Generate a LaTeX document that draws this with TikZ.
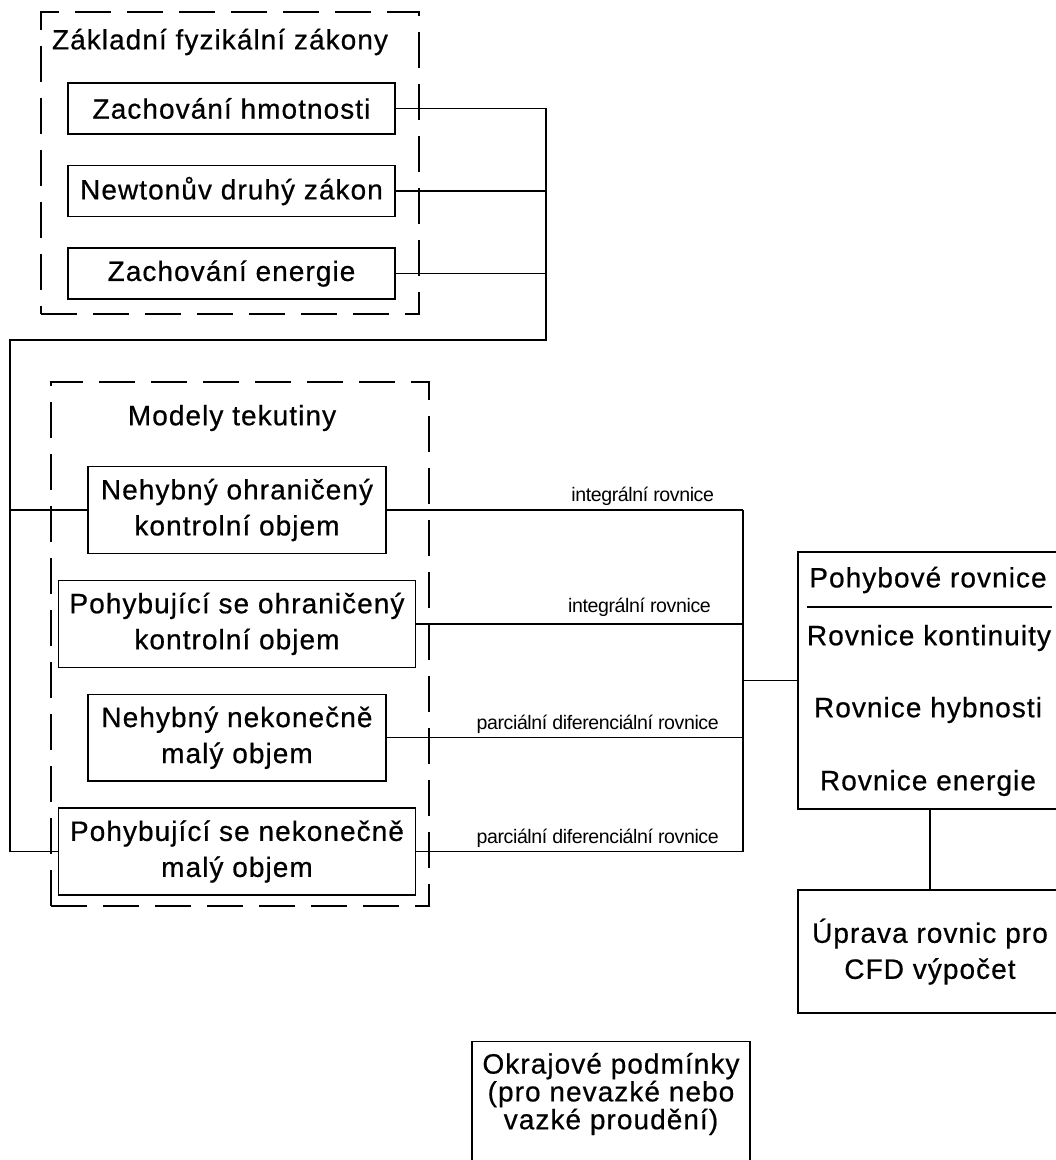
\documentclass[tikz,border=0pt]{standalone}
\usepackage{fontspec}
\setmainfont{Liberation Sans}[LetterSpace=3.8, FakeBold=0.6]
\newfontfamily\labelfont{Liberation Sans}[LetterSpace=-2]
\usetikzlibrary{positioning}

\begin{document}
\begin{tikzpicture}[x=0.025cm, y=-0.025cm, node distance=2.845cm,
    font=\fontsize{19.9}{25.6}\selectfont]
    \tikzstyle{groupbox} = [rectangle, draw=black, line width=1pt,
      dash pattern=on 0.9cm off 0.4cm, minimum width=9.45cm]
    \tikzstyle{lawbox} = [rectangle, draw=black, line width=1pt,
      minimum width=8.175cm, minimum height=1.275cm, node distance=2.0625cm]
    \tikzstyle{fixedbox} = [rectangle, draw=black, line width=1pt, align=center,
      minimum width=7.45cm, minimum height=2.17cm]
    \tikzstyle{movingbox} = [fixedbox, minimum width=8.925cm]
    \tikzstyle{resultbox} = [rectangle, draw=black, line width=1pt, align=center,
      minimum width=6.6cm]
    \tikzstyle{wire} = [line width=1pt]
    \tikzstyle{eqlabel} = [anchor=south east, inner sep=2.5pt,
      font=\labelfont\fontsize{13.9}{15}\selectfont]

    \useasboundingbox (0,0) rectangle (1055,1160);

    % dashed groups
    \node (lawsgroup) [groupbox, minimum height=7.55cm] at (230,163) {};
    \node (modelsgroup) [groupbox, minimum height=13.1cm] at (240,644) {};
    \node (lawstitle) at (220,42) {Základní fyzikální zákony};
    \node (modelstitle) at (232,418) {Modely tekutiny};

    \node (mass) [lawbox] at (231.5,108.5) {Zachování hmotnosti};
    \node (newton) [lawbox, below of=mass] {Newtonův druhý zákon};
    \node (energy) [lawbox, below of=newton] {Zachování energie};

    \node (fixedcv) [fixedbox] at (237,510) {Nehybný ohraničený\\kontrolní objem};
    \node (movingcv) [movingbox, below of=fixedcv] {Pohybující se ohraničený\\kontrolní objem};
    \node (fixedinf) [fixedbox, below of=movingcv] {Nehybný nekonečně\\malý objem};
    \node (movinginf) [movingbox, below of=fixedinf] {Pohybující se nekonečně\\malý objem};

    % equations
    \node (eqbox) [resultbox, minimum height=6.425cm] at (930,680.5) {};
    \node (eqtitle) at (928,580) {Pohybové rovnice};
    \draw [wire] (807,607) -- (1052,607);
    \node (continuity) at (929,638) {Rovnice kontinuity};
    \node (momentum) at (928,710) {Rovnice hybnosti};
    \node (energyeq) at (928,783) {Rovnice energie};

    \node (cfd) [resultbox, minimum height=3.075cm, below of=eqbox, node distance=6.775cm] {Úprava rovnic pro\\CFD výpočet};
    \node (bc) [resultbox, anchor=north, minimum width=6.95cm, inner ysep=8pt, text depth=2.75cm,
      font=\fontsize{19.9}{17.4}\selectfont] at (611,1041) {Okrajové podmínky\\(pro nevazké nebo\\vazké proudění)};

    \coordinate (lawbus) at (546,340);
    \coordinate (leftbus) at (10,340);
    \coordinate (eqbus) at (743,680.5);

    \draw [wire] (mass.east) -| (lawbus) -- (leftbus) |- (movinginf.west);
    \draw [wire] (newton.east) -- (newton.east -| lawbus);
    \draw [wire] (energy.east) -- (energy.east -| lawbus);
    \draw [wire] (leftbus |- fixedcv.west) -- (fixedcv.west);

    \draw [wire] (fixedcv.east) -- (fixedcv.east -| eqbus) node [eqlabel, xshift=-0.62cm] (intlabel1) {integrální rovnice};
    \draw [wire] (movingcv.east) -- (movingcv.east -| eqbus) node [eqlabel, xshift=-0.7cm, yshift=0.08cm] (intlabel2) {integrální rovnice};
    \draw [wire] (fixedinf.east) -- (fixedinf.east -| eqbus) node [eqlabel, xshift=-0.5cm] (pdelabel1) {parciální diferenciální rovnice};
    \draw [wire] (movinginf.east) -- (movinginf.east -| eqbus) node [eqlabel, xshift=-0.5cm] (pdelabel2) {parciální diferenciální rovnice};
    \draw [wire] (fixedcv.east -| eqbus) -- (movinginf.east -| eqbus);
    \draw [wire] (eqbus) -- (eqbus -| eqbox.west);
    \draw [wire] (eqbox.south) -- (cfd.north);
\end{tikzpicture}
\end{document}
